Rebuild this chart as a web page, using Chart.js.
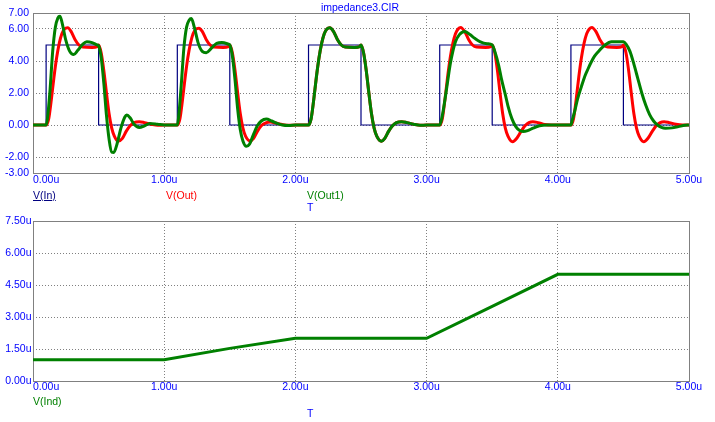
<!DOCTYPE html>
<html><head><meta charset="utf-8">
<script src="https://cdn.jsdelivr.net/npm/chart.js@4.4.1/dist/chart.umd.min.js"></script>
<style>
html,body{margin:0;padding:0;background:#fff;}
#wrap{position:relative;width:715px;height:422px;overflow:hidden;background:#fff;}
canvas{position:absolute;left:0;top:0;}
.lbl{position:absolute;font:10.5px "Liberation Sans",Arial,sans-serif;line-height:12px;white-space:nowrap;transform:translateY(-50%);}
</style></head><body>
<div id="wrap">
<canvas id="c1" width="715" height="422"></canvas>
<canvas id="c2" width="715" height="422"></canvas>
<div class="lbl" style="left:360px;top:7px;transform:translate(-50%,-50%);color:#0000ff">impedance3.CIR</div>
<div class="lbl" style="left:33px;top:195px;color:#000080;text-decoration:underline">V(In)</div>
<div class="lbl" style="left:166px;top:195px;color:#ff0000">V(Out)</div>
<div class="lbl" style="left:307px;top:195px;color:#008000">V(Out1)</div>
<div class="lbl" style="left:307px;top:207px;color:#0000ff">T</div>
<div class="lbl" style="left:33px;top:401px;color:#008000">V(Ind)</div>
<div class="lbl" style="left:307px;top:413px;color:#0000ff">T</div>
</div>
<script>
// ---- data (time in microseconds) ----
const timeTicks = [0, 1, 2, 3, 4, 5];
const voltTicks = [-3, -2, 0, 2, 4, 6, 7];
const indTicks = [0, 1.5, 3, 4.5, 6, 7.5];

const vInT = [0, 0.1, 0.1, 0.5, 0.5, 1.1, 1.1, 1.5, 1.5, 2.1, 2.1, 2.5, 2.5, 3.1, 3.1, 3.5, 3.5, 4.1, 4.1, 4.5, 4.5, 5.0];
const vInV = [0, 0, 5, 5, 0, 0, 5, 5, 0, 0, 5, 5, 0, 0, 5, 5, 0, 0, 5, 5, 0, 0];

const vOutT = [
 0, 0.1, 0.12, 0.14, 0.16, 0.18, 0.2, 0.22, 0.24, 0.265, 0.29, 0.32, 0.35, 0.38, 0.45, 0.49, 0.5, 0.52, 0.54, 0.56, 0.58, 0.6, 0.62, 0.648, 0.68, 0.71, 0.74, 0.77, 0.81, 0.85, 0.9, 0.95, 1.0,
 1.1, 1.12, 1.14, 1.16, 1.18, 1.2, 1.22, 1.24, 1.265, 1.29, 1.32, 1.35, 1.38, 1.45, 1.49, 1.5, 1.52, 1.54, 1.56, 1.58, 1.6, 1.62, 1.655, 1.68, 1.71, 1.74, 1.77, 1.81, 1.85, 1.9, 1.95, 2.0,
 2.1, 2.12, 2.14, 2.16, 2.18, 2.2, 2.22, 2.24, 2.262, 2.29, 2.32, 2.35, 2.38, 2.45, 2.49, 2.5, 2.52, 2.54, 2.56, 2.58, 2.6, 2.62, 2.655, 2.68, 2.71, 2.74, 2.77, 2.81, 2.85, 2.9, 2.95, 3.0,
 3.1, 3.12, 3.14, 3.16, 3.18, 3.2, 3.22, 3.24, 3.26, 3.29, 3.32, 3.35, 3.38, 3.45, 3.49, 3.5, 3.52, 3.54, 3.56, 3.58, 3.6, 3.62, 3.655, 3.69, 3.72, 3.75, 3.78, 3.81, 3.85, 3.9, 3.95, 4.0,
 4.1, 4.12, 4.14, 4.16, 4.18, 4.2, 4.22, 4.24, 4.26, 4.29, 4.32, 4.35, 4.38, 4.45, 4.49, 4.5, 4.52, 4.54, 4.56, 4.58, 4.6, 4.62, 4.655, 4.69, 4.72, 4.75, 4.78, 4.81, 4.85, 4.9, 4.95, 5.0];
const vOutV = [
 0, 0, 0.4, 1.6, 3.0, 4.2, 5.1, 5.7, 6.0, 6.08, 5.85, 5.35, 5.0, 4.87, 4.85, 4.9, 5.0, 4.5, 3.4, 2.0, 0.7, -0.2, -0.7, -1.02, -0.85, -0.4, -0.05, 0.15, 0.21, 0.15, 0.05, -0.02, 0,
 0, 0.4, 1.6, 3.0, 4.2, 5.1, 5.7, 5.98, 6.05, 5.85, 5.35, 5.0, 4.87, 4.85, 4.9, 5.0, 4.5, 3.4, 2.0, 0.7, -0.2, -0.7, -1.0, -0.85, -0.4, -0.05, 0.12, 0.18, 0.12, 0.03, -0.02, 0,
 0, 0.4, 1.6, 3.0, 4.2, 5.1, 5.7, 6.0, 6.08, 5.85, 5.35, 5.0, 4.87, 4.85, 4.9, 5.0, 4.5, 3.4, 2.0, 0.7, -0.2, -0.7, -1.02, -0.85, -0.4, -0.05, 0.15, 0.21, 0.15, 0.05, -0.02, 0,
 0, 0.4, 1.6, 3.0, 4.2, 5.1, 5.7, 6.0, 6.1, 5.85, 5.35, 5.0, 4.87, 4.85, 4.9, 5.0, 4.5, 3.4, 2.0, 0.7, -0.2, -0.7, -1.05, -0.8, -0.4, -0.05, 0.15, 0.21, 0.15, 0.03, 0, 0,
 0, 0.4, 1.6, 3.0, 4.2, 5.1, 5.7, 6.0, 6.1, 5.85, 5.35, 5.0, 4.87, 4.85, 4.9, 5.0, 4.5, 3.4, 2.0, 0.7, -0.2, -0.7, -1.05, -0.8, -0.4, -0.05, 0.15, 0.21, 0.15, 0.05, 0, 0];

const vOut1T = [
 0, 0.1, 0.11, 0.13, 0.15, 0.17, 0.19, 0.205, 0.22, 0.25, 0.28, 0.31, 0.34, 0.38, 0.41, 0.45, 0.49, 0.5, 0.52, 0.54, 0.56, 0.58, 0.6, 0.615, 0.64, 0.67, 0.7, 0.715, 0.74, 0.77, 0.81, 0.85, 0.89, 0.95, 1.0,
 1.1, 1.11, 1.13, 1.15, 1.17, 1.19, 1.207, 1.23, 1.26, 1.29, 1.32, 1.36, 1.4, 1.44, 1.49, 1.5, 1.52, 1.54, 1.56, 1.58, 1.6, 1.626, 1.65, 1.68, 1.71, 1.74, 1.778, 1.82, 1.86, 1.9, 1.95, 2.0,
 2.1, 2.12, 2.14, 2.16, 2.18, 2.2, 2.22, 2.24, 2.262, 2.29, 2.32, 2.35, 2.38, 2.45, 2.49, 2.5, 2.52, 2.54, 2.56, 2.58, 2.6, 2.62, 2.655, 2.68, 2.71, 2.74, 2.77, 2.81, 2.85, 2.9, 2.95, 3.0,
 3.1, 3.12, 3.14, 3.16, 3.18, 3.2, 3.22, 3.25, 3.29, 3.33, 3.37, 3.41, 3.46, 3.5, 3.52, 3.55, 3.57, 3.6, 3.62, 3.65, 3.68, 3.71, 3.735, 3.77, 3.81, 3.86, 3.92, 4.0,
 4.1, 4.11, 4.13, 4.15, 4.18, 4.206, 4.23, 4.256, 4.28, 4.31, 4.36, 4.41, 4.5, 4.52, 4.55, 4.58, 4.61, 4.64, 4.67, 4.7, 4.73, 4.76, 4.79, 4.82, 4.87, 4.92, 4.97, 5.0];
const vOut1V = [
 0, 0, 0.4, 2.2, 4.6, 6.1, 6.7, 6.8, 6.45, 5.3, 4.6, 4.4, 4.65, 5.05, 5.2, 5.15, 5.0, 4.95, 4.2, 2.6, 0.6, -0.9, -1.7, -1.72, -1.2, -0.2, 0.5, 0.62, 0.45, 0.05, -0.15, -0.05, 0.1, 0.05, 0,
 0, 0.5, 2.5, 4.8, 6.1, 6.55, 6.65, 6.1, 5.1, 4.6, 4.52, 4.8, 5.1, 5.15, 5.05, 5.0, 4.3, 2.8, 1.0, -0.3, -1.0, -1.33, -1.2, -0.6, -0.05, 0.25, 0.375, 0.25, 0.1, 0.0, -0.03, 0,
 0, 0.4, 1.6, 3.0, 4.2, 5.1, 5.7, 6.0, 6.08, 5.85, 5.35, 5.0, 4.87, 4.85, 4.9, 5.0, 4.5, 3.4, 2.0, 0.7, -0.2, -0.7, -1.02, -0.85, -0.4, -0.05, 0.15, 0.21, 0.15, 0.05, -0.02, 0,
 0, 0.6, 1.6, 2.7, 3.8, 4.6, 5.2, 5.65, 5.85, 5.65, 5.4, 5.2, 5.08, 5.0, 4.6, 3.7, 2.9, 1.9, 1.2, 0.4, -0.1, -0.35, -0.4, -0.35, -0.2, -0.05, 0, 0,
 0, 0.3, 0.9, 1.6, 2.4, 3.05, 3.5, 3.95, 4.3, 4.6, 5.0, 5.2, 5.2, 5.05, 4.6, 3.8, 2.9, 2.0, 1.25, 0.65, 0.25, 0.0, -0.15, -0.2, -0.18, -0.1, -0.02, 0];

const vIndT = [0, 1, 1.5, 2, 3, 3.5, 4, 5];
const vIndV = [1.0, 1.0, 1.53, 2.0, 2.0, 3.5, 5.0, 5.0];

// ---- helpers ----
const FONT = '10.5px "Liberation Sans", Arial, sans-serif';
const pts = (xs, ys) => xs.map((x, i) => ({x: x, y: ys[i]}));
const boxPlugin = {
  id: 'box',
  beforeDatasetsDraw(chart) {
    const {ctx, chartArea: a} = chart;
    ctx.save();
    ctx.strokeStyle = '#808080';
    ctx.lineWidth = 1;
    ctx.strokeRect(a.left + 0.5, a.top + 0.5, a.right - a.left, a.bottom - a.top);
    ctx.restore();
  }
};
function labelPlugin(xTicks, yTicks, fmtY, yRight, xOff) {
  return {
    id: 'tickLabels',
    afterDraw(chart) {
      const ctx = chart.ctx, xs = chart.scales.x, ys = chart.scales.y, a = chart.chartArea;
      ctx.save();
      ctx.font = FONT;
      ctx.fillStyle = '#0000ff';
      ctx.textBaseline = 'middle';
      ctx.textAlign = 'right';
      yTicks.forEach(v => ctx.fillText(fmtY(v), a.left - yRight, ys.getPixelForValue(v)));
      xTicks.forEach((v, i) => {
        ctx.textAlign = i === 0 ? 'left' : 'center';
        ctx.fillText(v.toFixed(2) + 'u', xs.getPixelForValue(v), a.bottom + xOff);
      });
      ctx.restore();
    }
  };
}
function axis(min, max, ticks) {
  return {
    type: 'linear', min: min, max: max,
    afterBuildTicks: s => { s.ticks = ticks.map(v => ({value: v})); },
    afterFit: s => { if (s.isHorizontal()) s.height = 0; else s.width = 0; },
    ticks: {display: false},
    grid: {color: '#808080', lineWidth: 1, drawTicks: false},
    border: {display: false, dash: [1, 2]}
  };
}
const common = {
  responsive: false, animation: false, devicePixelRatio: 1, events: [],
  plugins: {legend: {display: false}, tooltip: {enabled: false}, title: {display: false}},
  elements: {point: {radius: 0}}
};

new Chart(document.getElementById('c1'), {
  type: 'line',
  data: {datasets: [
    {label: 'V(Out1)', data: pts(vOut1T, vOut1V), borderColor: '#008000', borderWidth: 3, cubicInterpolationMode: 'monotone', order: 1},
    {label: 'V(Out)', data: pts(vOutT, vOutV), borderColor: '#ff0000', borderWidth: 3, cubicInterpolationMode: 'monotone', order: 2},
    {label: 'V(In)', data: pts(vInT, vInV), borderColor: '#000080', borderWidth: 1.2, tension: 0, order: 3}
  ]},
  options: Object.assign({}, common, {
    layout: {padding: {left: 33, top: 13, right: 26, bottom: 249}},
    scales: {x: axis(0, 5, timeTicks), y: axis(-3, 7, voltTicks)}
  }),
  plugins: [boxPlugin, labelPlugin(timeTicks, voltTicks, v => v.toFixed(2), 4, 7.5)]
});

new Chart(document.getElementById('c2'), {
  type: 'line',
  data: {datasets: [
    {label: 'V(Ind)', data: pts(vIndT, vIndV), borderColor: '#008000', borderWidth: 3, tension: 0}
  ]},
  options: Object.assign({}, common, {
    layout: {padding: {left: 33, top: 221, right: 26, bottom: 41}},
    scales: {x: axis(0, 5, timeTicks), y: axis(0, 7.5, indTicks)}
  }),
  plugins: [boxPlugin, labelPlugin(timeTicks, indTicks, v => v.toFixed(2) + 'u', 1.5, 6.5)]
});
</script>
</body></html>
